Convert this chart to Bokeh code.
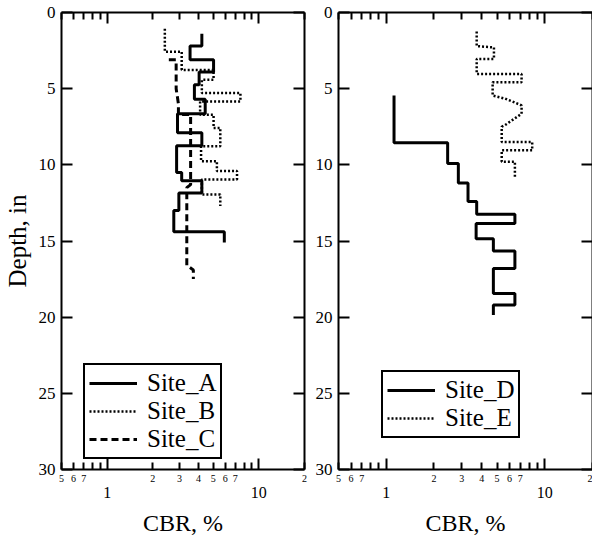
from bokeh.plotting import figure
from bokeh.models import LinearAxis, FixedTicker, Range1d, Legend, LegendItem
from bokeh.layouts import row
from bokeh.embed import file_html
from bokeh.resources import INLINE

FONT = "Liberation Serif"

# ---- data (depth in inches, CBR in %) ----
# stepped profiles: layer boundaries (depth) and CBR of each layer
site_a_depth = [1.4, 2.2, 3.1, 3.9, 4.75, 5.7, 6.65, 7.9, 8.75, 10.5, 11.05, 11.85, 13.0, 14.4, 15.1]
site_a_cbr = [4.21, 3.52, 5.03, 4.04, 3.76, 4.43, 2.91, 4.21, 2.87, 3.1, 4.21, 2.97, 2.75, 5.92]

site_b_depth = [1.07, 2.57, 3.77, 4.42, 5.29, 5.84, 6.71, 7.58, 8.78, 9.76, 10.41, 10.96, 11.94, 12.7]
site_b_cbr = [2.40, 3.10, 5.03, 4.21, 7.56, 4.10, 5.03, 5.57, 4.16, 5.29, 7.18, 4.21, 5.57]

# polyline profile
site_c_depth = [3.1, 3.1, 5.0, 6.0, 6.7, 6.7, 11.3, 11.5, 14.3, 16.6, 16.9, 17.5]
site_c_cbr = [2.55, 2.85, 2.85, 2.95, 2.95, 3.55, 3.55, 3.35, 3.35, 3.35, 3.7, 3.7]

site_d_depth = [5.45, 8.55, 9.92, 11.2, 12.4, 13.25, 13.85, 14.85, 15.65, 16.8, 18.45, 19.2, 19.85]
site_d_cbr = [1.12, 2.44, 2.85, 3.28, 3.72, 6.48, 3.69, 4.74, 6.48, 4.74, 6.48, 4.74]

site_e_depth = [1.24, 2.2, 2.3, 3.05, 3.05, 4.03, 4.03, 4.58, 4.58, 5.45, 5.65, 5.95, 6.1, 6.65,
                7.4, 7.5, 8.5, 8.5, 9.05, 9.05, 9.8, 9.8, 10.9]
site_e_cbr = [3.72, 3.72, 4.78, 4.78, 3.72, 3.72, 7.14, 7.14, 4.69, 4.69, 5.6, 6.6, 7.14, 7.14,
              5.6, 5.35, 5.35, 8.33, 8.33, 5.35, 5.35, 6.48, 6.48]

x_small_ticks = [0.5, 0.6, 0.7, 0.8, 0.9, 2, 3, 4, 5, 6, 7, 8, 9, 20]
x_small_labels = ["5", "6", "7", "", "", "2", "3", "4", "5", "6", "7", "", "", "2"]
x_decade_ticks = [1, 10]
x_decade_labels = ["1", "10"]
depth_ticks = [0, 5, 10, 15, 20, 25, 30]


def steps(depths, cbr):
    xs, ys = [], []
    for i, v in enumerate(cbr):
        xs += [v, v]
        ys += [depths[i], depths[i + 1]]
    return xs, ys


def hide_labels(ax):
    ax.major_label_text_font_size = "0px"
    ax.major_label_text_color = None
    ax.major_label_standoff = 0


def make_panel(min_left, frame_w, min_right, ylabel):
    p = figure(x_axis_type="log", x_range=Range1d(0.5, 20), y_range=Range1d(30, 0),
               x_axis_location=None, y_axis_location=None,
               frame_width=frame_w, frame_height=457,
               min_border_left=min_left, min_border_right=min_right,
               min_border_top=12, min_border_bottom=0,
               output_backend="svg", toolbar_location=None)
    p.outline_line_color = None
    p.background_fill_color = "white"
    p.border_fill_color = "white"
    p.grid.grid_line_color = None
    p.grid.visible = False

    def x_axis(labels=True):
        ax = LinearAxis(ticker=FixedTicker(ticks=x_small_ticks, minor_ticks=x_decade_ticks))
        ax.major_tick_in = 7
        ax.major_tick_out = 0
        ax.minor_tick_in = 11
        ax.minor_tick_out = 0
        ax.major_tick_line_width = 2
        ax.minor_tick_line_width = 2
        ax.axis_line_width = 2
        ax.axis_line_color = "black"
        ax.major_tick_line_color = "black"
        ax.minor_tick_line_color = "black"
        ax.major_label_text_font = FONT
        ax.major_label_text_color = "black"
        if labels:
            ax.major_label_overrides = {t: l for t, l in zip(x_small_ticks, x_small_labels)}
            ax.major_label_text_font_size = "10px"
            ax.major_label_standoff = 5
        else:
            hide_labels(ax)
        return ax

    p.add_layout(x_axis(True), "below")
    p.add_layout(x_axis(False), "above")

    dec = LinearAxis(ticker=FixedTicker(ticks=x_decade_ticks, minor_ticks=[]))
    dec.major_label_overrides = {t: l for t, l in zip(x_decade_ticks, x_decade_labels)}
    dec.axis_line_color = None
    dec.major_tick_line_color = None
    dec.minor_tick_line_color = None
    dec.major_tick_out = 0
    dec.major_tick_in = 0
    dec.major_label_standoff = 2
    dec.major_label_text_font = FONT
    dec.major_label_text_font_size = "16px"
    dec.major_label_text_color = "black"
    dec.axis_label = "CBR, %"
    dec.axis_label_text_font = FONT
    dec.axis_label_text_font_size = "24px"
    dec.axis_label_text_font_style = "normal"
    dec.axis_label_text_color = "black"
    dec.axis_label_standoff = 9
    p.add_layout(dec, "below")

    def y_axis(labels=True):
        ax = LinearAxis(ticker=FixedTicker(ticks=depth_ticks, minor_ticks=[]))
        ax.major_tick_in = 11
        ax.major_tick_out = 0
        ax.major_tick_line_width = 2
        ax.axis_line_width = 2
        ax.axis_line_color = "black"
        ax.major_tick_line_color = "black"
        ax.major_label_text_font = FONT
        ax.major_label_text_color = "black"
        if labels:
            ax.major_label_text_font_size = "17px"
            ax.major_label_standoff = 6
        else:
            hide_labels(ax)
        return ax

    left = y_axis(True)
    if ylabel:
        left.axis_label = ylabel
        left.axis_label_text_font = FONT
        left.axis_label_text_font_size = "25px"
        left.axis_label_text_font_style = "normal"
        left.axis_label_text_color = "black"
        left.axis_label_standoff = 5
    p.add_layout(left, "left")
    p.add_layout(y_axis(False), "right")
    return p


def add_legend(p, items, loc):
    lg = Legend(items=items, location=loc)
    lg.label_text_font = FONT
    lg.label_text_font_size = "25px"
    lg.label_text_color = "black"
    lg.glyph_width = 48
    lg.glyph_height = 20
    lg.label_standoff = 10
    lg.label_height = 20
    lg.spacing = 0
    lg.padding = 4
    lg.margin = 0
    lg.border_line_color = "black"
    lg.border_line_alpha = 1
    lg.border_line_width = 2
    lg.background_fill_color = "white"
    lg.background_fill_alpha = 1
    p.add_layout(lg)


# ---- left panel ----
p1 = make_panel(53, 243, 6, "Depth, in")
xa, ya = steps(site_a_depth, site_a_cbr)
xb, yb = steps(site_b_depth, site_b_cbr)
ra = p1.line(xa, ya, line_color="black", line_width=3)
rb = p1.line(xb, yb, line_color="black", line_width=2.5, line_dash="2 2")
rc = p1.line(site_c_cbr, site_c_depth, line_color="black", line_width=3, line_dash="7 4")
add_legend(p1, [LegendItem(label="Site_A", renderers=[ra]),
                LegendItem(label="Site_B", renderers=[rb]),
                LegendItem(label="Site_C", renderers=[rc])], (22, 10))

# ---- right panel ----
p2 = make_panel(28, 254, 0, None)
xd, yd = steps(site_d_depth, site_d_cbr)
rd = p2.line(xd, yd, line_color="black", line_width=3)
re_ = p2.line(site_e_cbr, site_e_depth, line_color="black", line_width=2.5, line_dash="2 2")
add_legend(p2, [LegendItem(label="Site_D", renderers=[rd]),
                LegendItem(label="Site_E", renderers=[re_])], (43, 31))

layout = row(p1, p2)
open("out.html", "w").write(file_html(layout, INLINE))
